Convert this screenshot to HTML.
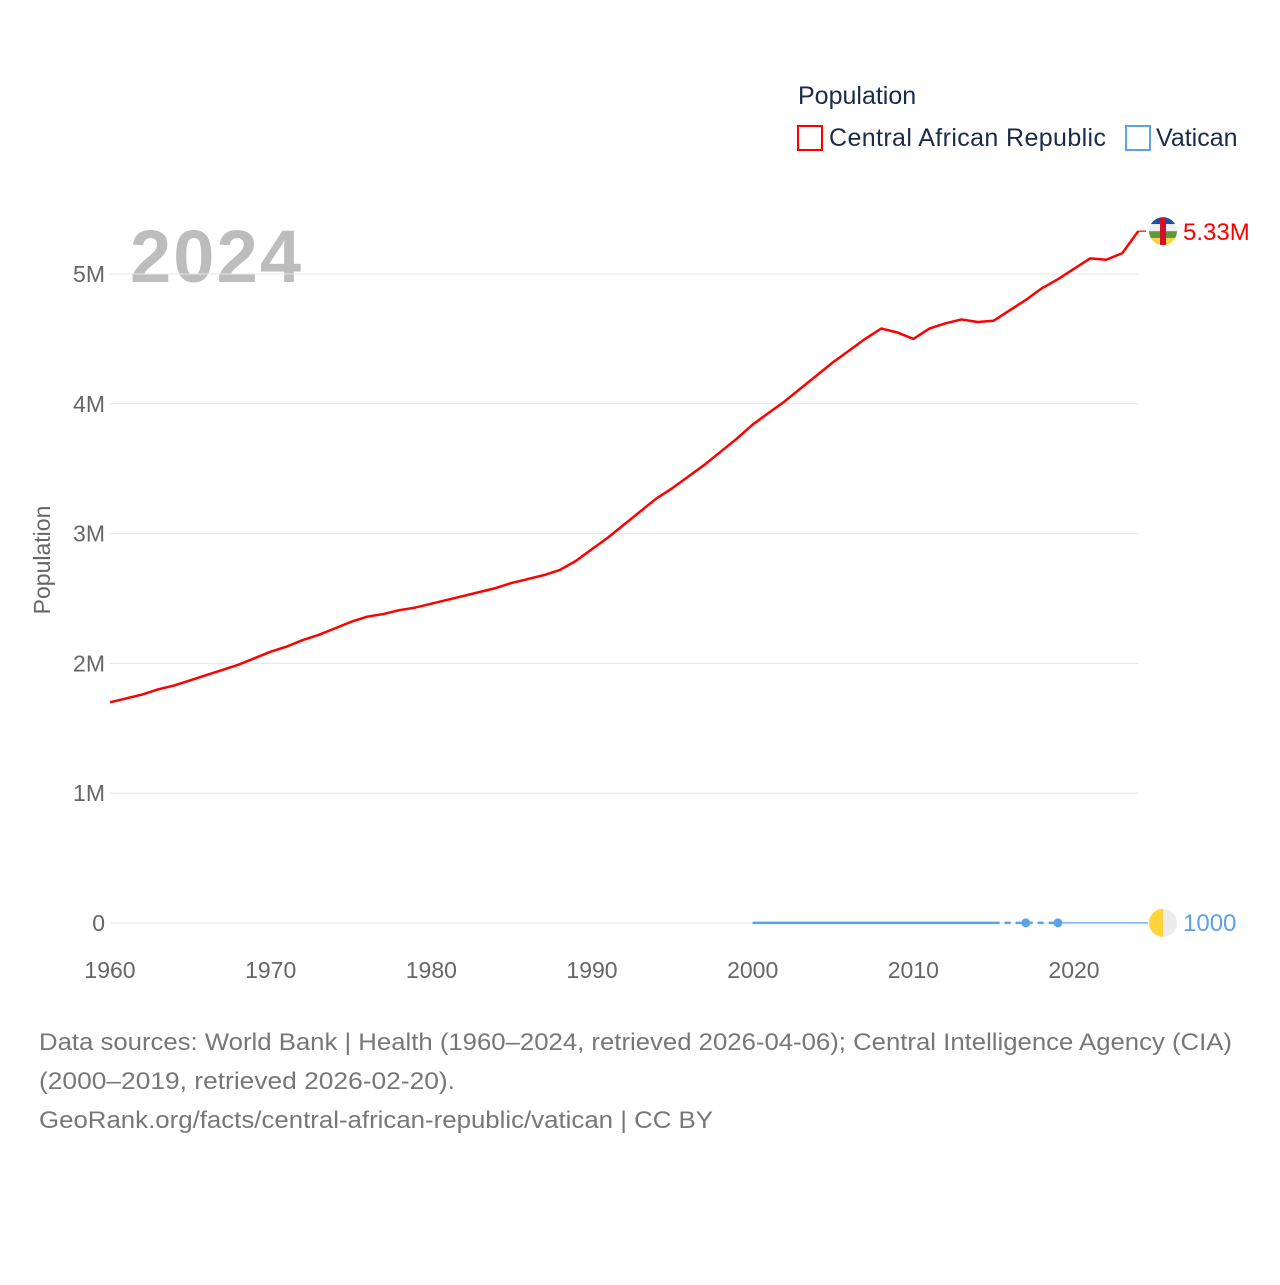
<!DOCTYPE html>
<html><head><meta charset="utf-8"><style>
body{margin:0;background:#fff;font-family:"Liberation Sans",sans-serif;}
</style></head><body>
<svg width="1280" height="1280" viewBox="0 0 1280 1280" style="font-family:'Liberation Sans',sans-serif">
<text x="798" y="104" font-size="25" fill="#1a2b4a">Population</text>
<rect x="798" y="126" width="24" height="24" fill="none" stroke="#ff0000" stroke-width="2"/>
<text x="829" y="146" font-size="25" fill="#1a2b4a" textLength="277">Central African Republic</text>
<rect x="1126" y="126" width="24" height="24" fill="none" stroke="#5aa3ea" stroke-width="2"/>
<text x="1156" y="146" font-size="25" fill="#1a2b4a">Vatican</text>
<text x="130" y="282" font-size="74" font-weight="bold" fill="#bdbdbd" textLength="171">2024</text>
<text transform="translate(50,560) rotate(-90)" text-anchor="middle" font-size="23" fill="#666">Population</text>
<g id="grid"></g><g id="xt"></g><g id="series"></g>
<text x="39" y="1050" font-size="24" fill="#777" textLength="1193" lengthAdjust="spacingAndGlyphs">Data sources: World Bank | Health (1960–2024, retrieved 2026-04-06); Central Intelligence Agency (CIA)</text>
<text x="39" y="1089" font-size="24" fill="#777" textLength="416" lengthAdjust="spacingAndGlyphs">(2000–2019, retrieved 2026-02-20).</text>
<text x="39" y="1128" font-size="24" fill="#777" textLength="674" lengthAdjust="spacingAndGlyphs">GeoRank.org/facts/central-african-republic/vatican | CC BY</text>
</svg>
<script>
const yTicks=[0,1,2,3,4,5];
const yTickLabels=["0","1M","2M","3M","4M","5M"];
const xTicks=[1960,1970,1980,1990,2000,2010,2020];
const carYears=[];for(let y=1960;y<=2024;y++)carYears.push(y);
const carValues=[1.70,1.73,1.76,1.80,1.83,1.87,1.91,1.95,1.99,2.04,2.09,2.13,2.18,2.22,2.27,2.32,2.36,2.38,2.41,2.43,2.46,2.49,2.52,2.55,2.58,2.62,2.65,2.68,2.72,2.79,2.88,2.97,3.07,3.17,3.27,3.35,3.44,3.53,3.63,3.73,3.84,3.93,4.02,4.12,4.22,4.32,4.41,4.50,4.58,4.55,4.50,4.58,4.62,4.65,4.63,4.64,4.72,4.80,4.89,4.96,5.04,5.12,5.11,5.16,5.33];
const vatYears=[2000,2015,2017,2019];
const vatValues=[1000,1000,1000,1000];
const X=y=>110+(y-1960)*964/60, Y=v=>923-v*129.8;
const NS="http://www.w3.org/2000/svg";
function mk(t,a,p){const e=document.createElementNS(NS,t);for(const k in a)e.setAttribute(k,a[k]);p.appendChild(e);return e;}
const grid=document.getElementById('grid');
yTicks.forEach((v,i)=>{
 const l=mk('line',{x1:110,x2:1138,y1:Y(v),y2:Y(v),stroke:'#e6e6e6','stroke-width':1},grid);
 
 
 const t=mk('text',{x:105,y:Y(v)+8,'text-anchor':'end','font-size':23,fill:'#666'},grid);t.textContent=yTickLabels[i];
 
 
});
const xt=document.getElementById('xt');
xTicks.forEach(y=>{const t=mk('text',{x:X(y),y:978,'text-anchor':'middle','font-size':23,fill:'#666'},xt);t.textContent=y;
 
 });
const s=document.getElementById('series');
const pts=carYears.map((y,i)=>X(y)+','+Y(carValues[i])).join(' ');
const pl=mk('polyline',{points:pts,fill:'none',stroke:'#ff0000','stroke-width':2.5,'stroke-linejoin':'round'},s);


const last=carValues[carValues.length-1];
mk('line',{x1:X(2024),x2:1146,y1:Y(last),y2:Y(last),stroke:'#ff0000','stroke-width':1.2},s);
const fl=mk('g',{},s);


const cx=1163,cy=Y(last);
mk('clipPath',{id:'cc'},fl).appendChild(document.createElementNS(NS,'circle'));
const cc=document.querySelector('#cc circle');cc.setAttribute('cx',cx);cc.setAttribute('cy',cy);cc.setAttribute('r',14);
[['#1e50a0',-14],['#f0f0f0',-7],['#5d9a3c',0],['#ffd23c',7]].forEach(([c,o])=>mk('rect',{x:cx-14,y:cy+o,width:28,height:7,fill:c,'clip-path':'url(#cc)'},fl));
mk('rect',{x:cx-3,y:cy-14,width:6,height:28,fill:'#d2102a','clip-path':'url(#cc)'},fl);
const lt=mk('text',{x:1183,y:cy+9,'font-size':24,fill:'#ff0000'},s);lt.textContent='5.33M';


const vy=v=>Y(v/1e6);
const v1=mk('line',{x1:X(vatYears[0]),x2:X(vatYears[1]),y1:vy(vatValues[0]),y2:vy(vatValues[1]),stroke:'#5aa3ea','stroke-width':2.5},s);


mk('polyline',{points:vatYears.slice(1).map((y,i)=>X(y)+','+vy(vatValues[i+1])).join(' '),fill:'none',stroke:'#5aa3ea','stroke-width':2.5,'stroke-dasharray':'6,5'},s);
vatYears.slice(2).forEach((y,i)=>{const c=mk('circle',{cx:X(y),cy:vy(vatValues[i+2]),r:4.5,fill:'#5aa3ea'},s);
 
 });
mk('line',{x1:X(2019),x2:1148,y1:vy(1000),y2:vy(1000),stroke:'#5aa3ea','stroke-width':1.2},s);
const vf=mk('g',{},s);


const vcy=vy(1000);
mk('path',{d:`M1163 ${vcy-14} A14 14 0 0 0 1163 ${vcy+14} Z`,fill:'#ffd43a'},vf);
mk('path',{d:`M1163 ${vcy-14} A14 14 0 0 1 1163 ${vcy+14} Z`,fill:'#ececec'},vf);
const vt=mk('text',{x:1183,y:vcy+8,'font-size':24,fill:'#5aa3ea'},s);vt.textContent='1000';


</script>
</body></html>
